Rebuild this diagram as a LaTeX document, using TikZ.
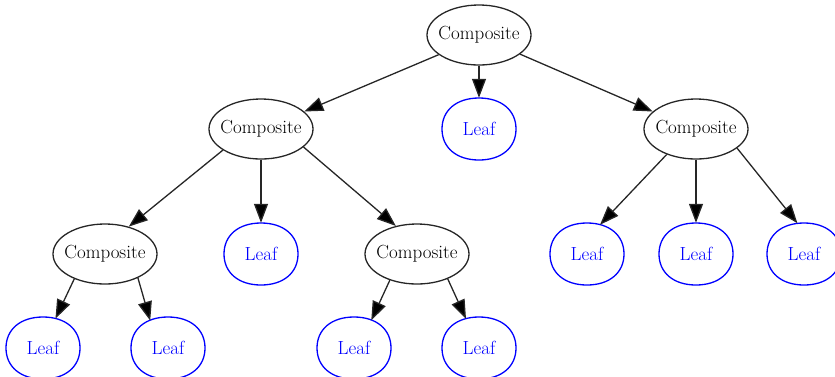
\documentclass[tikz,border=0pt]{standalone}
\usetikzlibrary{arrows.meta,shapes.geometric}
\begin{document}
\begin{tikzpicture}[x=1pt,y=-1pt,
  every label/.style={inner sep=0pt},
  comp/.style={ellipse, draw=black!85, line width=1.3pt, minimum width=104pt, minimum height=60pt, inner sep=0pt,
    label={[font=\fontsize{19}{22}\selectfont, text=black]center:Composite}},
  leaf/.style={ellipse, minimum width=74pt, minimum height=62pt, inner sep=0pt,
    label={[font=\fontsize{19}{22}\selectfont, text=blue]center:Leaf}},
  leafline/.style={draw=blue, line width=1.3pt},
  edge/.style={draw=black!85, line width=1.3pt, -{Triangle[length=19pt,width=14pt,fill=black]}},
]
\useasboundingbox (0,0) rectangle (835,376);
\clip (0,0) rectangle (835,376);

% tree nodes
\node[comp] (root) at (479,35) {};
\node[comp] (c1)   at (261,129) {};
\node[leaf] (l1)   at (479,129) {};
\node[comp] (c2)   at (696,129) {};
\node[comp] (c11)  at (105,254) {};
\node[leaf] (l12)  at (261,254) {};
\node[comp] (c13)  at (417,254) {};
\node[leaf] (l21)  at (587,254) {};
\node[leaf] (l22)  at (696,254) {};
\node[leaf] (l23)  at (804,254) {};
\node[leaf] (l111) at (43,348) {};
\node[leaf] (l112) at (168,348) {};
\node[leaf] (l131) at (354,348) {};
\node[leaf] (l132) at (479,348) {};

% slightly squared outlines of the leaves (half axes 37 x 31)
\foreach \n in {l1,l12,l21,l22,l23,l111,l112,l131,l132}
  \draw[leafline, shift={(\n.center)}]
    (37,0) .. controls (37,18.8) and (22.4,31) .. (0,31)
           .. controls (-22.4,31) and (-37,18.8) .. (-37,0)
           .. controls (-37,-18.8) and (-22.4,-31) .. (0,-31)
           .. controls (22.4,-31) and (37,-18.8) .. (37,0) -- cycle;

% connectors
\draw[edge] (root.-154) -- (c1.22);
\draw[edge] (root.-90) -- (l1.90);
\draw[edge] (root.-25) -- (c2.158);
\draw[edge] (c1.-151) -- (c11.49);
\draw[edge] (c1.-90) -- (l12.90);
\draw[edge] (c1.-23) -- (c13.127);
\draw[edge] (c2.-139) -- (l21.66);
\draw[edge] (c2.-90) -- (l22.90);
\draw[edge] (c2.-25) -- (l23.102);
\draw[edge] (c11.-141) -- (l111.67);
\draw[edge] (c11.-36) -- (l112.123);
\draw[edge] (c13.-136) -- (l131.58);
\draw[edge] (c13.-39) -- (l132.114);
\end{tikzpicture}
\end{document}
